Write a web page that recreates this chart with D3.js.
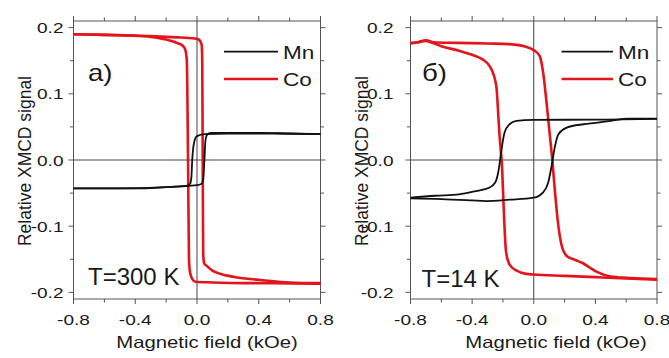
<!DOCTYPE html>
<html><head><meta charset="utf-8">
<script src="https://cdn.jsdelivr.net/npm/d3@7"></script>
<style>html,body{margin:0;padding:0;background:#fff;} svg{display:block;}</style>
</head><body>
<script>
// ---------- DATA ----------
const xTicks = [-0.8, -0.4, 0.0, 0.4, 0.8];
const xTickLabels = ["-0.8", "-0.4", "0.0", "0.4", "0.8"];
const xMinorTicks = [-0.8, -0.6, -0.4, -0.2, 0.0, 0.2, 0.4, 0.6, 0.8];
const yTicks = [0.2, 0.1, 0.0, -0.1, -0.2];
const yTickLabels = ["0.2", "0.1", "0.0", "-0.1", "-0.2"];
const yMinorTicks = [0.15, 0.05, -0.05, -0.15];
const seriesNames = ["Mn", "Co"];
const panelLabels = ["a)", "б)"];
const tempLabels = ["T=300 K", "T=14 K"];
const xTitle = "Magnetic field (kOe)";
const yTitle = "Relative XMCD signal";

// Panel a) T=300 K
const coA_up = [[-0.8,0.190],[-0.6,0.189],[-0.4,0.188],[-0.2,0.186],[-0.1,0.185],[0.0,0.183],[0.02,0.180],[0.03,0.174],[0.034,0.150],[0.037,0.0],[0.040,-0.140],[0.046,-0.156],[0.063,-0.160],[0.1,-0.167],[0.15,-0.172],[0.25,-0.177],[0.4,-0.181],[0.6,-0.185],[0.8,-0.186]];
const coA_down = [[-0.8,0.190],[-0.6,0.189],[-0.44,0.188],[-0.3,0.186],[-0.2,0.182],[-0.12,0.176],[-0.09,0.172],[-0.075,0.166],[-0.066,0.150],[-0.058,0.0],[-0.052,-0.150],[-0.045,-0.170],[-0.03,-0.180],[-0.01,-0.184],[0.1,-0.185],[0.3,-0.186],[0.5,-0.186],[0.8,-0.187]];
const mnA_up = [[-0.8,-0.043],[-0.6,-0.043],[-0.4,-0.043],[-0.2,-0.041],[-0.05,-0.039],[0.0,-0.038],[0.03,-0.036],[0.04,-0.030],[0.048,0.0],[0.055,0.030],[0.065,0.038],[0.09,0.041],[0.2,0.041],[0.4,0.041],[0.6,0.040],[0.8,0.039]];
const mnA_down = [[-0.8,-0.043],[-0.5,-0.043],[-0.2,-0.041],[-0.07,-0.039],[-0.045,-0.036],[-0.036,-0.025],[-0.031,0.0],[-0.026,0.015],[-0.015,0.030],[0.0,0.036],[0.05,0.039],[0.2,0.040],[0.5,0.040],[0.8,0.039]];

// Panel б) T=14 K
const coB_up = [[-0.8,0.177],[-0.75,0.178],[-0.7,0.181],[-0.65,0.178],[-0.5,0.177],[-0.3,0.176],[-0.157,0.175],[-0.05,0.171],[0.0,0.166],[0.039,0.157],[0.061,0.132],[0.083,0.087],[0.105,0.036],[0.122,-0.004],[0.138,-0.049],[0.16,-0.100],[0.18,-0.128],[0.214,-0.145],[0.27,-0.151],[0.32,-0.156],[0.36,-0.162],[0.41,-0.169],[0.5,-0.176],[0.6,-0.178],[0.7,-0.179],[0.8,-0.180]];
const coB_down = [[-0.8,0.176],[-0.75,0.178],[-0.7,0.180],[-0.66,0.177],[-0.6,0.172],[-0.485,0.165],[-0.4,0.159],[-0.332,0.152],[-0.29,0.143],[-0.267,0.133],[-0.25,0.120],[-0.24,0.105],[-0.232,0.075],[-0.223,0.040],[-0.205,-0.014],[-0.192,-0.090],[-0.18,-0.138],[-0.157,-0.158],[-0.113,-0.167],[-0.05,-0.172],[0.0,-0.173],[0.2,-0.175],[0.4,-0.177],[0.6,-0.179],[0.8,-0.181]];
const mnB_up = [[-0.8,-0.058],[-0.6,-0.059],[-0.4,-0.061],[-0.31,-0.062],[-0.157,-0.060],[0.0,-0.057],[0.061,-0.049],[0.094,-0.034],[0.116,-0.009],[0.138,0.021],[0.16,0.039],[0.214,0.049],[0.323,0.054],[0.4,0.056],[0.5,0.059],[0.61,0.0625],[0.8,0.0625]];
const mnB_down = [[-0.8,-0.057],[-0.64,-0.054],[-0.485,-0.052],[-0.376,-0.047],[-0.29,-0.042],[-0.25,-0.034],[-0.227,-0.014],[-0.212,0.011],[-0.19,0.041],[-0.157,0.054],[-0.113,0.059],[0.0,0.0605],[0.4,0.061],[0.8,0.062]];

// ---------- LAYOUT ----------
const W = 669, H = 358;
const FONT = "'Liberation Sans', Arial, sans-serif";
const RED = "#e3141b", BLACK = "#111";
const panels = [
  { x0: 73.5, x1: 320.5, ylab: 63.5, ytitleX: 24, xtitleX: 207,
    legLine: [224, 278], legText: 283, panelLabelX: 88, panelLabelY: 81,
    tempX: 88, tempY: 284.5, mn: [mnA_up, mnA_down], co: [coA_up, coA_down] },
  { x0: 410.5, x1: 657, ylab: 393.5, ytitleX: 361, xtitleX: 556,
    legLine: [561.5, 613], legText: 618, panelLabelX: 422, panelLabelY: 81,
    tempX: 421.5, tempY: 286.5, mn: [mnB_up, mnB_down], co: [coB_up, coB_down] }
];
const yTop = 21, yBot = 299;

const svg = d3.select("body").append("svg").attr("width", W).attr("height", H)
  .style("font-family", FONT);
svg.append("rect").attr("width", W).attr("height", H).attr("fill", "#fff");

function txt(g, x, y, s, fs, sx, anchor, extra) {
  return g.append("text")
    .attr("transform", `translate(${x},${y}) scale(${sx},1)` + (extra || ""))
    .attr("text-anchor", anchor || "start")
    .attr("font-size", fs).attr("fill", "#1a1a1a").text(s);
}

panels.forEach((p, i) => {
  const g = svg.append("g");
  const x = d3.scaleLinear().domain([-0.8, 0.8]).range([p.x0, p.x1]);
  const y = d3.scaleLinear().domain([-0.21, 0.21]).range([yBot, yTop]);

  // zero lines
  g.append("line").attr("x1", x(0)).attr("x2", x(0)).attr("y1", yTop).attr("y2", yBot)
    .attr("stroke", "#444").attr("stroke-width", 1);
  g.append("line").attr("x1", p.x0).attr("x2", p.x1).attr("y1", y(0)).attr("y2", y(0))
    .attr("stroke", "#444").attr("stroke-width", 1);

  // ticks (outward on all sides)
  const tk = g.append("g").attr("stroke", "#555").attr("stroke-width", 1);
  xMinorTicks.forEach(v => {
    const L = xTicks.includes(v) ? 5 : 3.5;
    tk.append("line").attr("x1", x(v)).attr("x2", x(v)).attr("y1", yBot).attr("y2", yBot + L);
    tk.append("line").attr("x1", x(v)).attr("x2", x(v)).attr("y1", yTop).attr("y2", yTop - L);
  });
  yTicks.concat(yMinorTicks).forEach(v => {
    const L = yTicks.includes(v) ? 5 : 3.5;
    tk.append("line").attr("y1", y(v)).attr("y2", y(v)).attr("x1", p.x0).attr("x2", p.x0 - L);
    tk.append("line").attr("y1", y(v)).attr("y2", y(v)).attr("x1", p.x1).attr("x2", p.x1 + L);
  });

  // frame
  g.append("rect").attr("x", p.x0).attr("y", yTop).attr("width", p.x1 - p.x0).attr("height", yBot - yTop)
    .attr("fill", "none").attr("stroke", "#555").attr("stroke-width", 1);

  // tick labels
  xTicks.forEach((v, k) => txt(g, x(v), 324.5, xTickLabels[k], 15, 1.27, "middle"));
  yTicks.forEach((v, k) => txt(g, p.ylab, y(v) + 5.5, yTickLabels[k], 15, 1.27, "end"));

  // titles
  txt(g, p.xtitleX, 348, xTitle, 16.5, 1.23, "middle");
  txt(g, p.ytitleX, 161, yTitle, 17.5, 1.1, "middle", " rotate(-90)")
    .attr("dominant-baseline", "central");

  // data
  const line = d3.line().x(d => x(d[0])).y(d => y(d[1])).curve(d3.curveMonotoneX);
  p.co.forEach(arr => g.append("path").datum(arr).attr("d", line)
    .attr("fill", "none").attr("stroke", RED).attr("stroke-width", 2.6).attr("stroke-linejoin", "round"));
  p.mn.forEach(arr => g.append("path").datum(arr).attr("d", line)
    .attr("fill", "none").attr("stroke", BLACK).attr("stroke-width", 1.8).attr("stroke-linejoin", "round"));

  // legend
  const legY = [51.7, 79];
  const legC = [BLACK, RED];
  const legW = [1.8, 2.6];
  seriesNames.forEach((n, k) => {
    g.append("line").attr("x1", p.legLine[0]).attr("x2", p.legLine[1])
      .attr("y1", legY[k]).attr("y2", legY[k]).attr("stroke", legC[k]).attr("stroke-width", legW[k]);
    txt(g, p.legText, legY[k] + 6.8, n, 18.5, 1.22, "start");
  });

  // annotations
  txt(g, p.panelLabelX, p.panelLabelY, panelLabels[i], 23, 1.2, "start");
  txt(g, p.tempX, p.tempY, tempLabels[i], 24, 1.0, "start");
});
</script>
</body></html>
